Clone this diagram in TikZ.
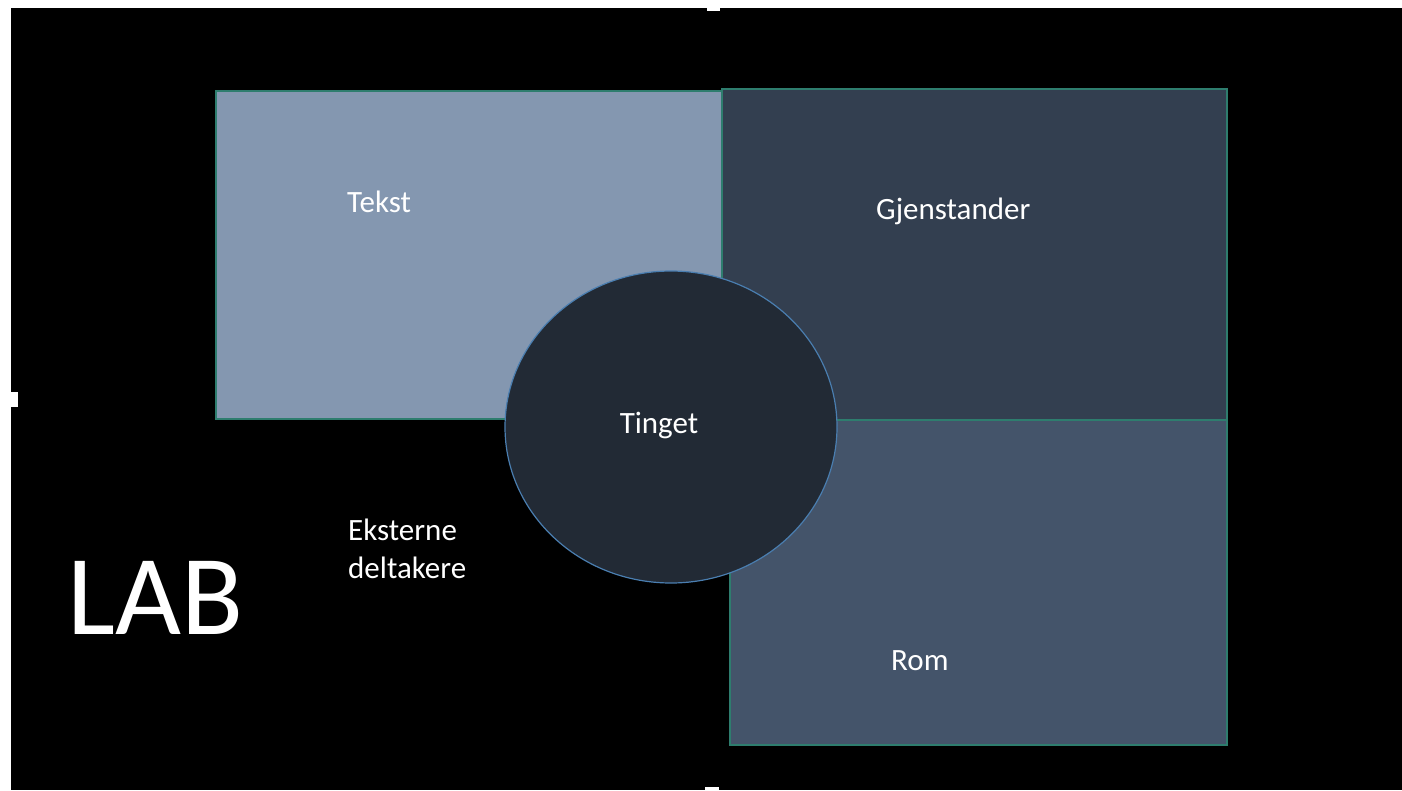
\documentclass[tikz,border=0pt]{standalone}
\usepackage{fontspec}
\usetikzlibrary{shapes.geometric}
\setmainfont{Carlito}
\definecolor{tekstc}{HTML}{8497B0}
\definecolor{gjenc}{HTML}{333F50}
\definecolor{romc}{HTML}{44546A}
\definecolor{tingc}{HTML}{222A35}
\definecolor{edgec}{HTML}{2E7D6E}
\definecolor{circc}{HTML}{4A7EB0}
\tikzset{
  box/.style={draw=edgec, line width=1.7pt},
  lbl/.style={text=white, font=\fontsize{31}{38}\selectfont, inner sep=0pt},
  handle/.style={fill=white, draw=none}
}
\begin{document}
\begin{tikzpicture}[x=1pt,y=-1pt]
\useasboundingbox (0,0) rectangle (1402,790);
\fill[white] (0,0) rectangle (1402,790);
\fill[black] (11,8) rectangle (1402,790);
\fill[handle] (707,2) rectangle (720,11);
\fill[handle] (11,392) rectangle (18,407);
\fill[handle] (705,787) rectangle (719,790);
\node[box, fill=tekstc, minimum width=506pt, minimum height=328pt, anchor=north west, inner sep=0pt] (tekst) at (215,90) {};
\node[box, fill=gjenc, minimum width=505pt, minimum height=331pt, anchor=north west, inner sep=0pt] (gjen) at (721,88) {};
\node[box, fill=romc, minimum width=497pt, minimum height=325pt, anchor=north west, inner sep=0pt] (rom) at (729,419) {};
\node[draw=circc, line width=1.2pt, fill=tingc, ellipse, minimum width=332pt, minimum height=312pt, inner sep=0pt] (ting) at (671,427) {};
\node[lbl, anchor=base west] (tekstl) at (347,212) {Tekst};
\node[lbl, anchor=base west] (gjenl) at (876,219) {Gjenstander};
\node[lbl, anchor=base] (tingl) at (659,433) {Tinget};
\node[lbl, anchor=base west] (roml) at (891,670) {Rom};
\node[lbl, anchor=base west] (eks1) at (348,540) {Eksterne};
\node[lbl, anchor=base west] (eks2) at (348,578) {deltakere};
\node[text=white, font=\fontsize{114}{120}\selectfont, inner sep=0pt, anchor=base west] (lab) at (67,634) {LAB};
\end{tikzpicture}
\end{document}
